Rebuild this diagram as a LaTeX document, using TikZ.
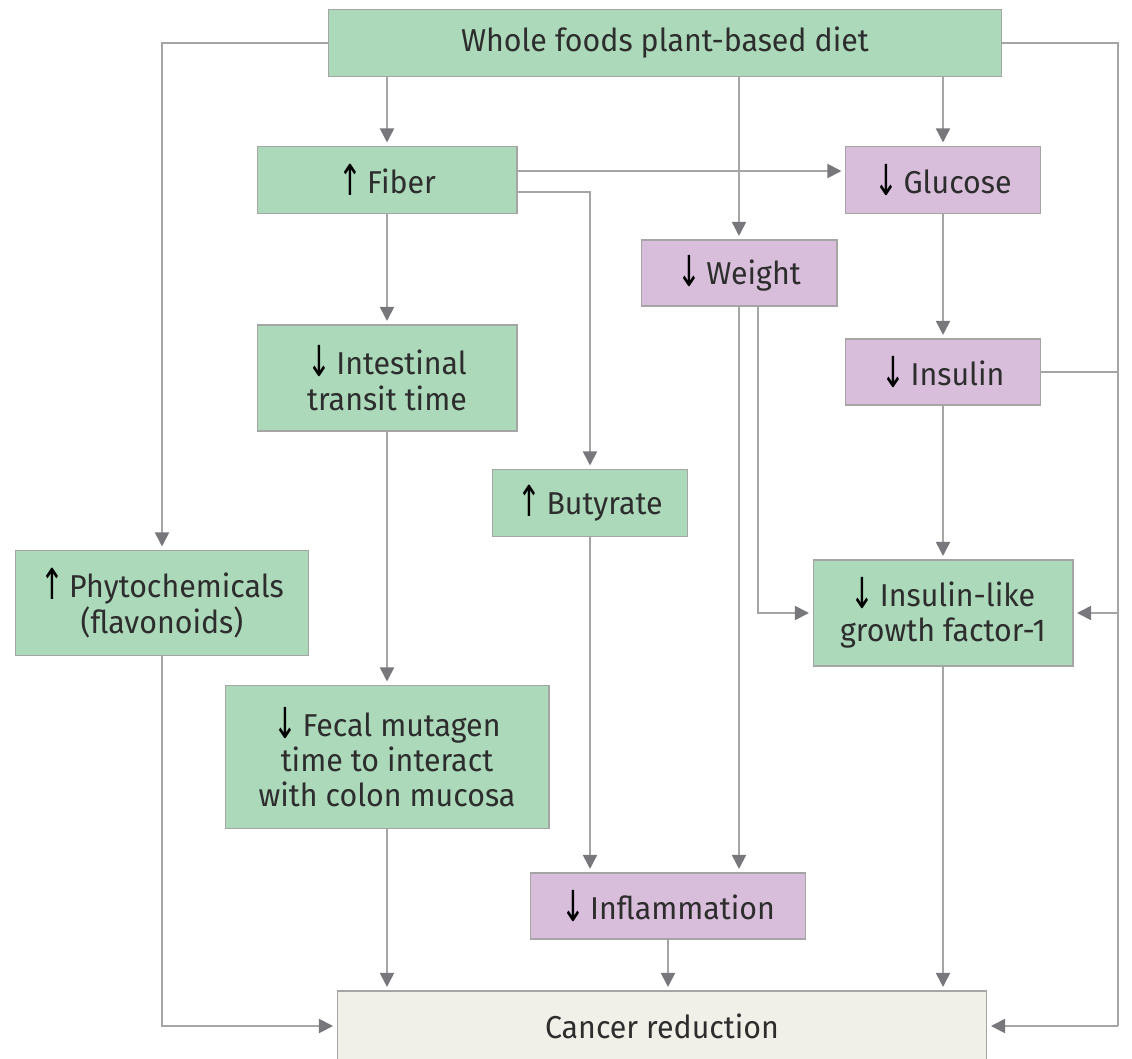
\documentclass[tikz,border=0pt]{standalone}
\usepackage{fontspec}
\usepackage{graphicx}
\setmainfont{Fira Sans}[FakeStretch=0.96]
\newfontfamily\arrowfont{DejaVu Sans}
\usetikzlibrary{arrows.meta, positioning}

\definecolor{plantgreen}{RGB}{172,217,186}
\definecolor{lowpurple}{RGB}{216,190,218}
\definecolor{endbeige}{RGB}{240,240,232}
\definecolor{linkgray}{RGB}{165,165,165}
\definecolor{tipgray}{RGB}{120,120,124}
\definecolor{textgray}{RGB}{45,45,45}

\newcommand{\incr}{\raisebox{-0.1ex}{\scalebox{0.9}[1.35]{\color{black}\arrowfont\char"2191}}\,}
\newcommand{\decr}{\raisebox{-0.1ex}{\scalebox{0.9}[1.35]{\color{black}\arrowfont\char"2193}}\,}

\tikzset{
  box/.style={draw=linkgray, line width=0.6pt, text=textgray, align=center, inner sep=0pt,
    font=\fontsize{18}{20}\selectfont},
  green box/.style={box, fill=plantgreen},
  purple box/.style={box, fill=lowpurple},
  link/.style={draw=linkgray, line width=1pt, shorten >=2pt,
    -{Triangle[length=8pt, width=8pt, color=tipgray]}},
  rail/.style={draw=linkgray, line width=1pt}
}

\begin{document}
\begin{tikzpicture}[x=0.02cm, y=-0.02cm]
  \useasboundingbox (0,0) rectangle (1132,1058);

  % Boxes
  \node[green box, minimum width=13.46cm, minimum height=1.34cm] (diet) at (665,43) {Whole foods plant-based diet};
  \node[green box, minimum width=5.2cm, minimum height=1.34cm] (fiber) at (387,180) {\incr Fiber};
  \node[purple box, minimum width=3.9cm, minimum height=1.34cm] (glucose) at (943,180) {\decr Glucose};
  \node[purple box, minimum width=3.92cm, minimum height=1.32cm] (weight) at (739,273) {\decr Weight};
  \node[green box, minimum width=5.2cm, minimum height=2.12cm] (transit) at (387,378) {\decr Intestinal\\transit time};
  \node[purple box, minimum width=3.9cm, minimum height=1.32cm] (insulin) at (943,372) {\decr Insulin};
  \node[green box, minimum width=3.9cm, minimum height=1.34cm] (butyrate) at (590,503) {\incr Butyrate};
  \node[green box, minimum width=5.86cm, minimum height=2.1cm] (phyto) at (162,603) {\incr Phytochemicals\\(flavonoids)};
  \node[green box, minimum width=5.2cm, minimum height=2.12cm] (igf) at (943,613) {\decr Insulin-like\\growth factor-1};
  \node[green box, minimum width=6.48cm, minimum height=2.86cm] (fecal) at (387,757) {\decr Fecal mutagen\\time to interact\\with colon mucosa};
  \node[purple box, minimum width=5.5cm, minimum height=1.32cm] (inflam) at (668,906) {\decr Inflammation};
  \node[box, fill=endbeige, minimum width=13cm, minimum height=1.4cm] (cancer) at (662,1026) {Cancer reduction};

  \coordinate (rail) at (1118,0);

  % From the diet
  \draw[link] (diet.south -| fiber.north) -- (fiber.north);
  \draw[link] (diet.south -| weight.north) -- (weight.north);
  \draw[link] (diet.south -| glucose.north) -- (glucose.north);
  \draw[link] (diet.west) -| (phyto.north);
  \draw[rail] (diet.east) -- (diet.east -| rail) -- (rail |- cancer.east);
  \draw[link] (rail |- cancer.east) -- (cancer.east);
  \draw[link] (rail |- igf.east) -- (igf.east);

  % Fiber branch
  \draw[link] ([yshift=0.18cm]fiber.east) -- ([yshift=0.18cm]fiber.east -| glucose.west);
  \draw[link] ([yshift=-0.24cm]fiber.east) -| (butyrate.north);
  \draw[link] (fiber.south) -- (transit.north);
  \draw[link] (transit.south) -- (fecal.north);

  % Weight and insulin
  \draw[link] (weight.south) -- (weight.south |- inflam.north);
  \draw[link] ([xshift=0.38cm]weight.south) |- (igf.west);
  \draw[link] (glucose.south) -- (insulin.north);
  \draw[link] (insulin.south) -- (igf.north);
  \draw[rail] (insulin.east) -- (insulin.east -| rail);
  \draw[link] (butyrate.south) -- (butyrate.south |- inflam.north);

  % Into cancer reduction
  \draw[link] (phyto.south) |- (cancer.west);
  \draw[link] (fecal.south) -- (fecal.south |- cancer.north);
  \draw[link] (inflam.south) -- (inflam.south |- cancer.north);
  \draw[link] (igf.south) -- (igf.south |- cancer.north);
\end{tikzpicture}
\end{document}
